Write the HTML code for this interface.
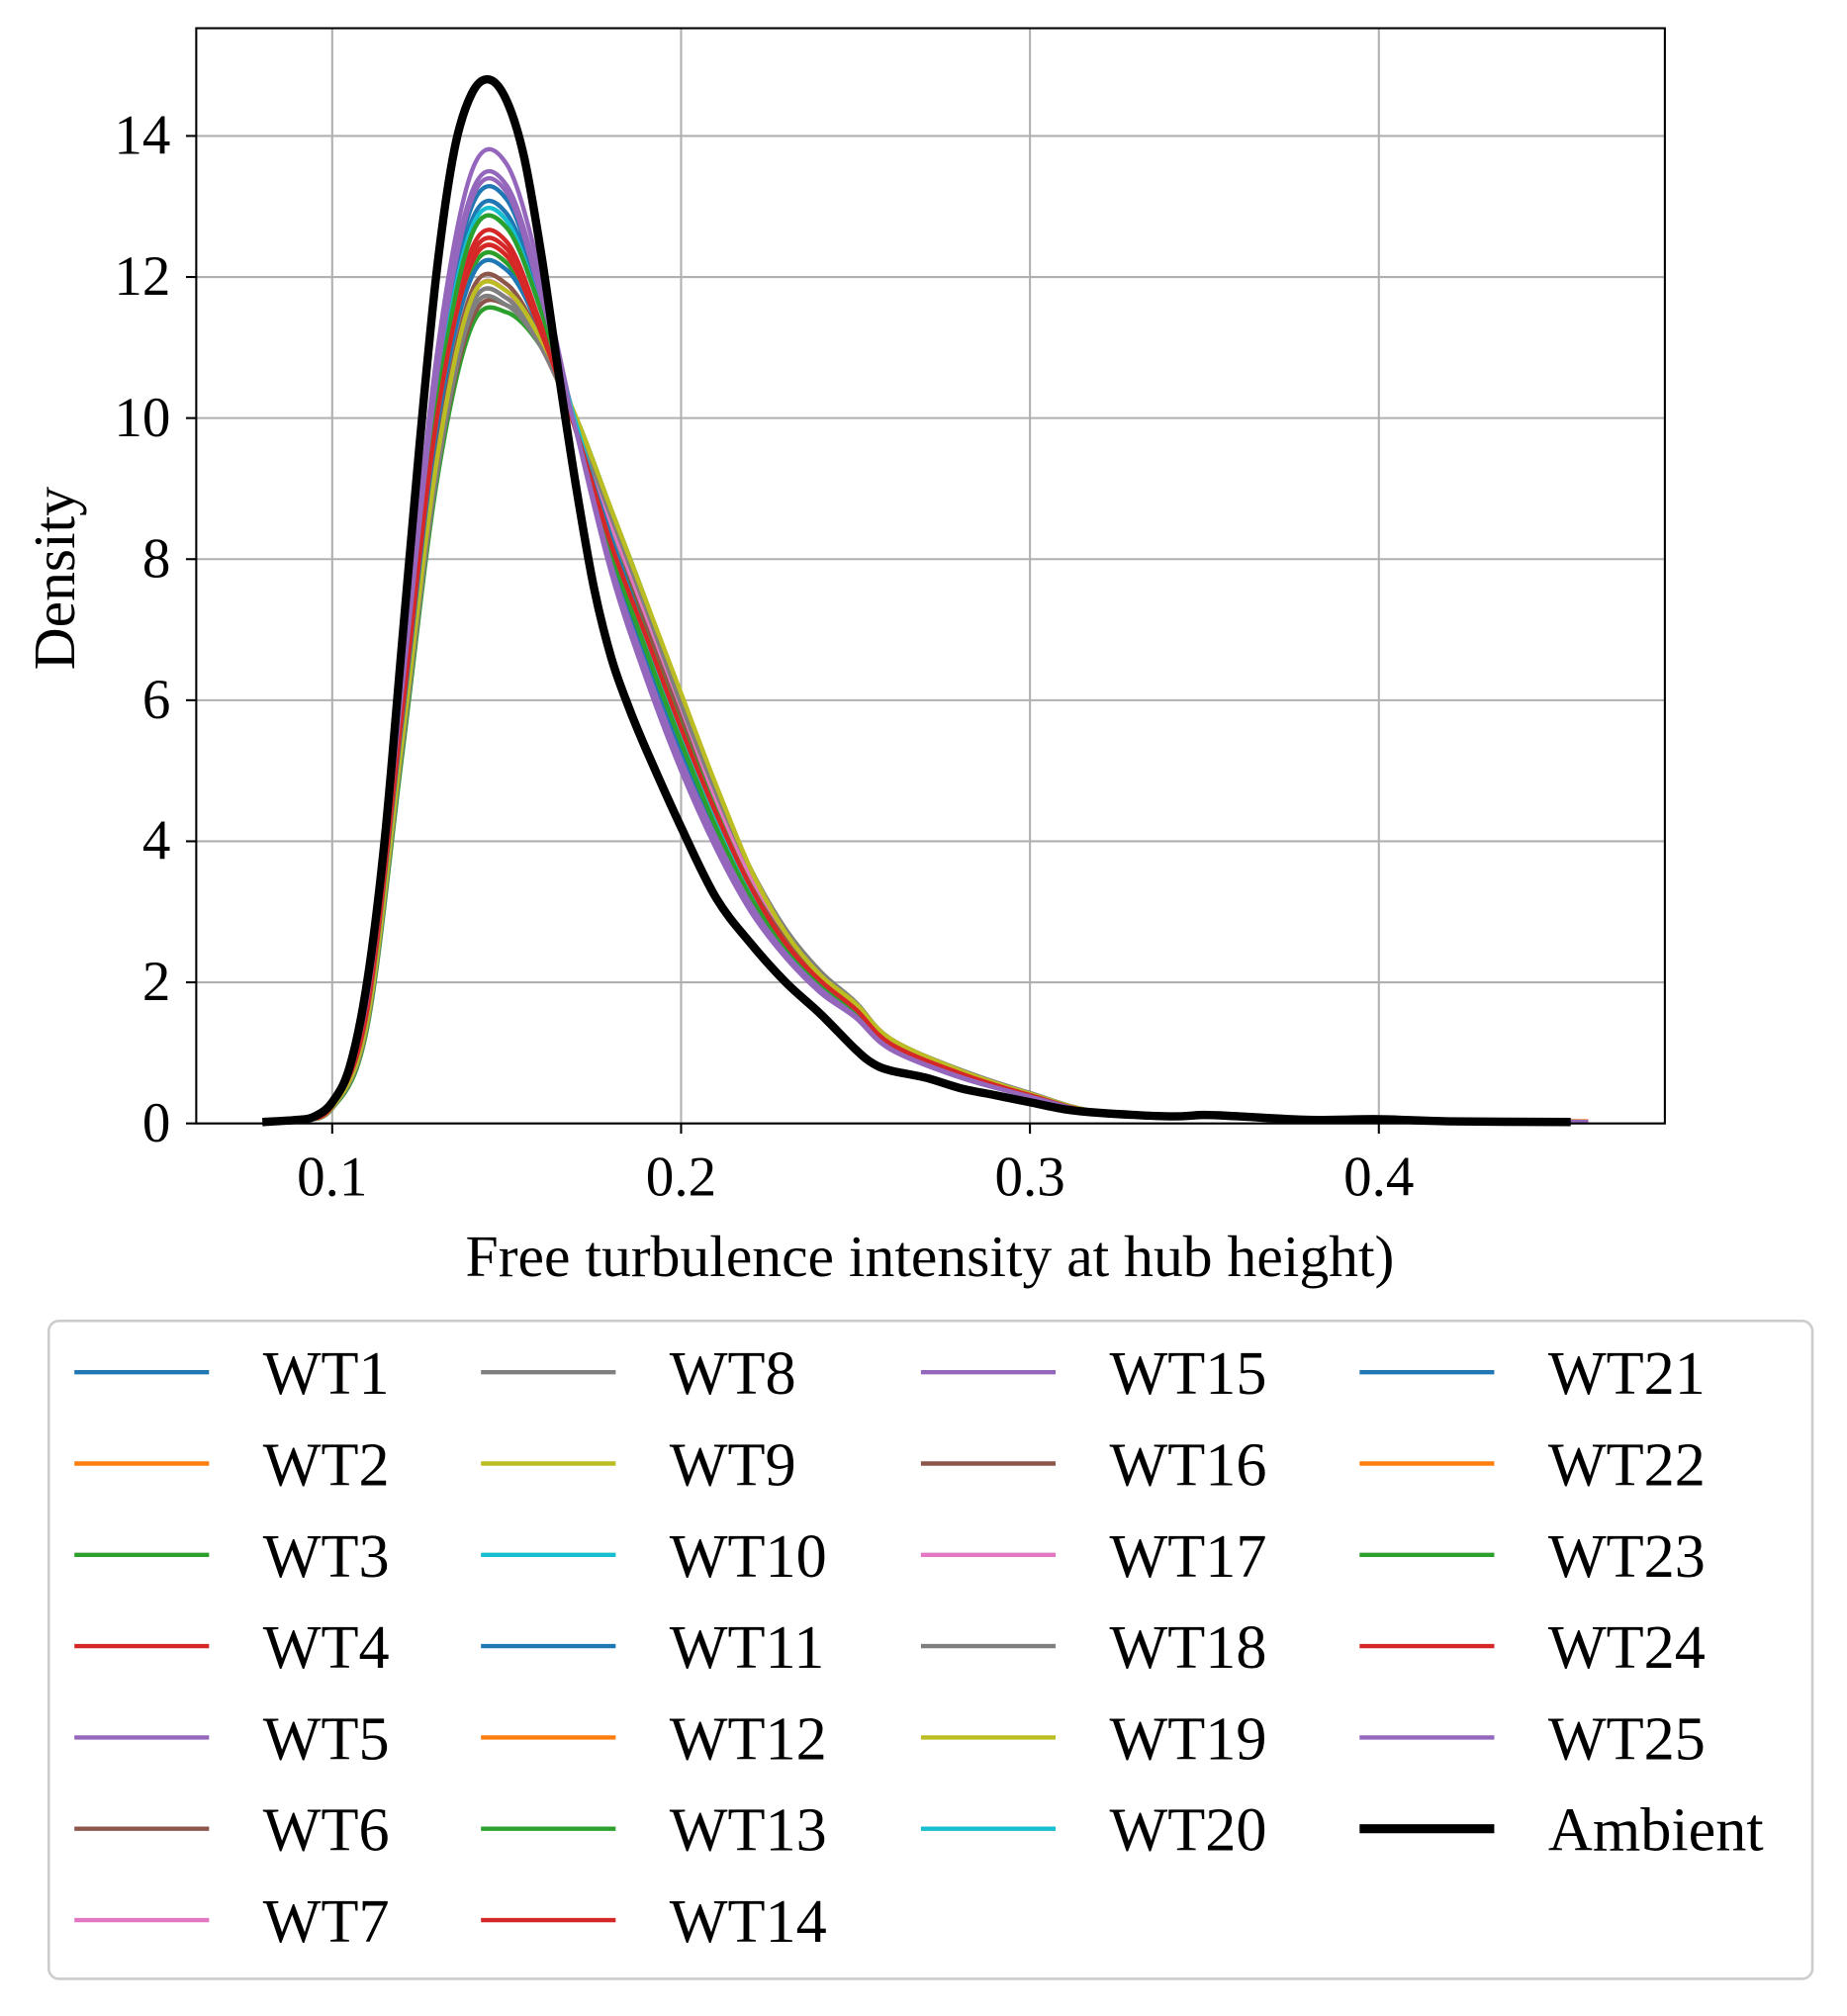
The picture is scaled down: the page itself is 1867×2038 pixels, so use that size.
<!DOCTYPE html>
<html><head><meta charset="utf-8"><style>
html,body{margin:0;padding:0;background:#fff}
svg{display:block}
text{font-family:"Liberation Serif","DejaVu Serif",serif;fill:#000}
</style></head><body>
<svg id="chart" width="1867" height="2038" viewBox="0 0 1440 1572" preserveAspectRatio="none" xmlns="http://www.w3.org/2000/svg">
<rect width="1440" height="1572" fill="#fff"/>
<g id="grid"></g>
<g id="series"></g>
<rect x="153" y="22" width="1145" height="854" fill="none" stroke="#000" stroke-width="1.6"/>
<g id="ticks"></g>
<text x="725" y="995" font-size="46" text-anchor="middle">Free turbulence intensity at hub height)</text>
<text transform="translate(58,451) rotate(-90)" font-size="46" text-anchor="middle">Density</text>
<rect x="38" y="1030" width="1375" height="513" rx="8" fill="#fff" stroke="#ccc" stroke-width="2"/>
<g id="legend"></g>
</svg>
<script>
const xTicks=[0.1,0.2,0.3,0.4];
const xTickLabels=["0.1","0.2","0.3","0.4"];
const yTicks=[0,2,4,6,8,10,12,14];
const yTickLabels=["0","2","4","6","8","10","12","14"];
const xGrid=[0.08,0.09,0.1,0.11,0.12,0.13,0.14,0.15,0.16,0.17,0.18,0.19,0.2,0.21,0.22,0.23,0.24,0.25,0.26,0.28,0.3,0.32,0.35,0.4,0.46];
const seriesNames=["WT1","WT2","WT3","WT4","WT5","WT6","WT7","WT8","WT9","WT10","WT11","WT12","WT13","WT14","WT15","WT16","WT17","WT18","WT19","WT20","WT21","WT22","WT23","WT24","WT25"];
const colors=["#1f77b4","#ff7f0e","#2ca02c","#d62728","#9467bd","#8c564b","#e377c2","#7f7f7f","#bcbd22","#17becf"];
const wt1=[0,0.05,0.28,1.7,6.0,10.4,12.8,12.9,11.6,9.9,8.0,6.6,5.3,4.2,3.2,2.45,1.95,1.55,1.08,0.68,0.39,0.15,0.1,0.05,0.02];
const wt2=[0,0.05,0.25,1.6,5.8,10.0,12.2,12.3,11.2,9.8,8.2,6.9,5.6,4.4,3.3,2.5,2.0,1.6,1.1,0.7,0.4,0.15,0.1,0.05,0.02];
const wt3=[0,0.05,0.21,1.35,5.2,9.1,11.3,11.5,11.0,10.0,8.7,7.4,6.0,4.7,3.6,2.75,2.15,1.7,1.2,0.75,0.42,0.16,0.1,0.05,0.02];
const wt4=[0,0.05,0.26,1.65,5.9,10.1,12.4,12.5,11.3,9.8,8.1,6.8,5.5,4.3,3.3,2.5,2.0,1.6,1.1,0.7,0.4,0.15,0.1,0.05,0.02];
const wt5=[0,0.05,0.3,1.85,6.3,10.9,13.5,13.6,12.0,9.8,7.8,6.3,5.0,3.9,3.0,2.35,1.85,1.5,1.05,0.65,0.38,0.15,0.1,0.05,0.02];
const wt6=[0,0.05,0.22,1.4,5.3,9.2,11.4,11.6,11.0,9.9,8.6,7.3,5.9,4.7,3.6,2.7,2.15,1.7,1.2,0.75,0.42,0.16,0.1,0.05,0.02];
const wt7=[0,0.05,0.22,1.42,5.35,9.3,11.6,11.7,11.0,9.9,8.5,7.2,5.9,4.6,3.5,2.7,2.1,1.7,1.2,0.74,0.42,0.16,0.1,0.05,0.02];
const wt8=[0,0.05,0.22,1.4,5.3,9.2,11.5,11.6,11.0,9.9,8.6,7.3,5.9,4.7,3.6,2.75,2.15,1.72,1.2,0.76,0.43,0.16,0.1,0.05,0.02];
const wt9=[0,0.05,0.23,1.45,5.4,9.4,11.7,11.8,11.0,9.9,8.6,7.3,6.0,4.8,3.6,2.7,2.1,1.7,1.2,0.75,0.42,0.16,0.1,0.05,0.02];
const wt10=[0,0.05,0.27,1.7,6.0,10.3,12.7,12.8,11.5,9.8,8.1,6.7,5.4,4.2,3.2,2.5,1.95,1.55,1.1,0.68,0.39,0.15,0.1,0.05,0.02];
const wt11=[0,0.05,0.29,1.75,6.1,10.6,13.0,13.1,11.7,9.8,8.0,6.5,5.2,4.1,3.1,2.4,1.9,1.52,1.06,0.66,0.38,0.15,0.1,0.05,0.02];
const wt12=[0,0.05,0.25,1.58,5.75,9.9,12.1,12.2,11.2,9.8,8.3,6.9,5.6,4.4,3.4,2.55,2.0,1.6,1.12,0.71,0.4,0.15,0.1,0.05,0.02];
const wt13=[0,0.05,0.25,1.58,5.75,9.9,12.1,12.2,11.2,9.9,8.3,7.0,5.7,4.5,3.4,2.6,2.05,1.65,1.15,0.72,0.41,0.15,0.1,0.05,0.02];
const wt14=[0,0.05,0.26,1.62,5.85,10.1,12.3,12.4,11.3,9.8,8.2,6.8,5.5,4.3,3.3,2.5,2.0,1.6,1.1,0.7,0.4,0.15,0.1,0.05,0.02];
const wt15=[0,0.05,0.29,1.8,6.2,10.7,13.2,13.3,11.8,9.8,7.9,6.4,5.1,4.0,3.05,2.35,1.88,1.5,1.05,0.66,0.38,0.15,0.1,0.05,0.02];
const wt16=[0,0.05,0.23,1.48,5.5,9.5,11.8,11.9,11.1,9.9,8.5,7.1,5.8,4.6,3.5,2.65,2.1,1.68,1.18,0.74,0.42,0.16,0.1,0.05,0.02];
const wt17=[0,0.05,0.23,1.45,5.45,9.4,11.7,11.8,11.0,9.9,8.5,7.2,5.9,4.6,3.5,2.7,2.1,1.7,1.2,0.74,0.42,0.16,0.1,0.05,0.02];
const wt18=[0,0.05,0.22,1.42,5.35,9.3,11.6,11.7,11.0,9.9,8.6,7.3,5.95,4.7,3.6,2.75,2.15,1.72,1.2,0.76,0.43,0.16,0.1,0.05,0.02];
const wt19=[0,0.05,0.23,1.45,5.4,9.4,11.7,11.8,11.1,10.0,8.7,7.4,6.1,4.8,3.6,2.7,2.1,1.7,1.2,0.75,0.42,0.16,0.1,0.05,0.02];
const wt20=[0,0.05,0.27,1.68,5.95,10.2,12.6,12.7,11.5,9.9,8.2,6.8,5.5,4.3,3.3,2.5,1.98,1.58,1.1,0.69,0.39,0.15,0.1,0.05,0.02];
const wt21=[0,0.05,0.25,1.58,5.7,9.85,12.0,12.1,11.2,9.8,8.3,6.9,5.6,4.4,3.35,2.55,2.0,1.6,1.12,0.7,0.4,0.15,0.1,0.05,0.02];
const wt22=[0,0.05,0.25,1.6,5.8,10.0,12.2,12.3,11.2,9.8,8.2,6.9,5.6,4.4,3.35,2.55,2.02,1.62,1.13,0.71,0.4,0.15,0.1,0.05,0.03];
const wt23=[0,0.05,0.27,1.68,5.95,10.2,12.6,12.7,11.5,9.8,8.1,6.7,5.4,4.2,3.2,2.5,1.98,1.58,1.1,0.69,0.39,0.15,0.1,0.05,0.02];
const wt24=[0,0.05,0.25,1.6,5.8,10.0,12.2,12.3,11.2,9.8,8.2,6.9,5.6,4.4,3.35,2.55,2.02,1.62,1.13,0.71,0.4,0.15,0.1,0.05,0.02];
const wt25=[0,0.05,0.29,1.78,6.15,10.6,13.1,13.2,11.7,9.8,7.9,6.45,5.15,4.05,3.1,2.4,1.9,1.52,1.06,0.66,0.38,0.15,0.1,0.05,0.02];
const wtValues=[wt1,wt2,wt3,wt4,wt5,wt6,wt7,wt8,wt9,wt10,wt11,wt12,wt13,wt14,wt15,wt16,wt17,wt18,wt19,wt20,wt21,wt22,wt23,wt24,wt25];
const ambientX=[0.08,0.09,0.095,0.1,0.105,0.11,0.115,0.12,0.125,0.13,0.135,0.14,0.145,0.15,0.155,0.16,0.165,0.17,0.175,0.18,0.185,0.19,0.2,0.21,0.22,0.23,0.24,0.25,0.255,0.26,0.27,0.28,0.29,0.3,0.31,0.32,0.34,0.35,0.36,0.38,0.4,0.42,0.455];
const ambientY=[0.02,0.05,0.1,0.3,0.8,2.0,4.0,6.8,9.6,12.1,13.8,14.6,14.8,14.5,13.7,12.3,10.6,9.0,7.6,6.6,5.9,5.3,4.2,3.2,2.55,2.0,1.55,1.05,0.85,0.75,0.65,0.5,0.4,0.3,0.2,0.15,0.1,0.12,0.1,0.05,0.06,0.03,0.02];

const NS="http://www.w3.org/2000/svg";
const X=v=>259+(v-0.1)*2720;
const Y=v=>876-v*55;
function mk(tag,attrs,parent){const e=document.createElementNS(NS,tag);for(const k in attrs)e.setAttribute(k,attrs[k]);parent.appendChild(e);return e;}
function path(xs,ys){const p=xs.map((x,i)=>[X(x),Y(ys[i])]);let d="M"+p[0][0]+","+p[0][1];
for(let i=0;i<p.length-1;i++){const p0=p[Math.max(0,i-1)],p1=p[i],p2=p[i+1],p3=p[Math.min(p.length-1,i+2)];
const c1=[p1[0]+(p2[0]-p0[0])/6,p1[1]+(p2[1]-p0[1])/6],c2=[p2[0]-(p3[0]-p1[0])/6,p2[1]-(p3[1]-p1[1])/6];
d+=" C"+c1+" "+c2+" "+p2;}return d;}
const grid=document.getElementById('grid'),ticks=document.getElementById('ticks'),series=document.getElementById('series'),legend=document.getElementById('legend');
xTicks.forEach((v,i)=>{
 const g=mk('line',{x1:X(v),x2:X(v),y1:22,y2:876,stroke:'#b0b0b0','stroke-width':1.6},grid);
 
 
 mk('line',{x1:X(v),x2:X(v),y1:876,y2:884,stroke:'#000','stroke-width':1.6},ticks);
 const t=mk('text',{x:X(v),y:932,'font-size':44,'text-anchor':'middle'},ticks);t.textContent=xTickLabels[i];
 
 
});
yTicks.forEach((v,i)=>{
 const g=mk('line',{x1:153,x2:1298,y1:Y(v),y2:Y(v),stroke:'#b0b0b0','stroke-width':1.6},grid);
 
 
 mk('line',{x1:145,x2:153,y1:Y(v),y2:Y(v),stroke:'#000','stroke-width':1.6},ticks);
 const t=mk('text',{x:133,y:Y(v)+14,'font-size':44,'text-anchor':'end'},ticks);t.textContent=yTickLabels[i];
 
 
});
wtValues.forEach((ys,i)=>{
 const p=mk('path',{d:path(xGrid,ys),fill:'none',stroke:colors[i%10],'stroke-width':3.4},series);
 
 
});
const amb=mk('path',{d:path(ambientX,ambientY),fill:'none',stroke:'#000','stroke-width':6.5},series);


const colX=[58,375,718,1060];
const colStart=[0,7,14,20];
const allNames=seriesNames.concat(["Ambient"]);
allNames.forEach((n,i)=>{
 const c=i>=20?3:i>=14?2:i>=7?1:0,r=i-colStart[c],y=1070+r*71.2,x=colX[c];
 const isAmb=n==="Ambient";
 const g=mk('g',{},legend);
 
 
 mk('line',{x1:x,x2:x+105,y1:y,y2:y,stroke:isAmb?'#000':colors[i%10],'stroke-width':isAmb?7:3.4},g);
 const t=mk('text',{x:x+147,y:y+17,'font-size':48},g);t.textContent=n;
});
</script>
</body></html>
